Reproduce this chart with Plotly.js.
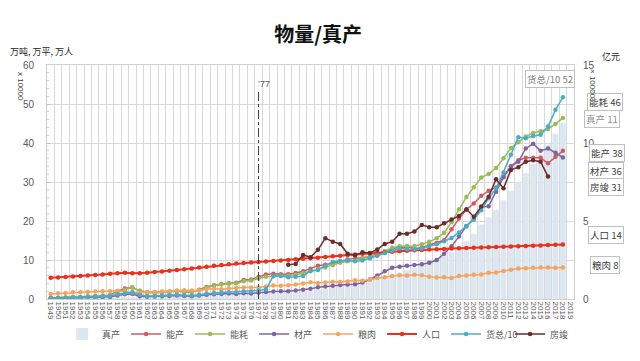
<!DOCTYPE html>
<html><head><meta charset="utf-8">
<script src="https://cdn.plot.ly/plotly-3.0.1.min.js"></script>
<style>html,body{margin:0;padding:0;background:#fff}#chart{width:640px;height:361px}</style>
</head><body><div id="chart"></div><script>
const years = ['1949','1950','1951','1952','1953','1954','1955','1956','1957','1958','1959','1960','1961','1962','1963','1964','1965','1966','1967','1968','1969','1970','1971','1972','1973','1974','1975','1976','1977','1978','1979','1980','1981','1982','1983','1984','1985','1986','1987','1988','1989','1990','1991','1992','1993','1994','1995','1996','1997','1998','1999','2000','2001','2002','2003','2004','2005','2006','2007','2008','2009','2010','2011','2012','2013','2014','2015','2016','2017','2018','2019'];

// 真产 (亿元, ×10000) — right axis
const zhenChan = [0.04,0.05,0.05,0.06,0.07,0.07,0.08,0.09,0.09,0.11,
 0.12,0.12,0.09,0.09,0.10,0.11,0.13,0.15,0.14,0.13,
 0.15,0.18,0.19,0.20,0.21,0.22,0.23,0.23,0.25,0.31,
 0.33,0.36,0.37,0.41,0.45,0.52,0.59,0.65,0.72,0.80,
 0.84,0.87,0.95,1.08,1.23,1.39,1.54,1.69,1.85,1.99,
 2.15,2.33,2.52,2.75,3.02,3.33,3.71,4.18,4.77,5.23,
 5.72,6.33,6.94,7.49,8.07,8.67,9.28,9.91,10.59,11.3,null];
// left axis series (万吨, 万平, 万人, ×10000)
const nengChan = [0.24,0.31,0.37,0.49,0.52,0.63,0.73,0.79,0.99,1.98,
 2.72,2.96,2.10,1.72,1.72,1.80,1.88,2.08,1.77,1.88,
 2.36,3.10,3.55,3.82,4.07,4.16,4.87,5.03,5.64,6.28,
 6.46,6.37,6.32,6.68,7.13,7.78,8.55,8.81,9.13,9.58,
 10.16,10.39,10.48,10.73,11.11,11.87,12.90,13.30,13.35,12.98,
 13.12,13.86,14.39,15.06,17.86,20.61,22.90,24.47,26.48,27.73,
 28.61,31.21,34.03,35.60,36.20,36.20,36.20,34.80,36.50,38.0,null];
const nengHao = [0.30,0.35,0.40,0.46,0.54,0.62,0.70,0.88,0.96,1.76,
 2.39,3.02,2.04,1.65,1.56,1.66,1.89,2.03,1.83,1.84,
 2.27,2.93,3.45,3.72,3.91,4.01,4.54,4.77,5.24,5.71,
 5.86,6.03,5.94,6.21,6.60,7.09,7.67,8.09,8.66,9.30,
 9.69,9.87,10.38,10.92,11.60,12.27,13.12,13.52,13.59,13.62,
 14.06,14.70,15.55,16.96,19.71,23.03,26.14,28.65,31.14,32.06,
 33.61,36.06,38.70,40.21,41.69,42.58,43.0,43.6,44.9,46.4,null];
const caiChan = [0.1,0.15,0.2,0.25,0.3,0.35,0.4,0.5,0.55,0.9,
 1.2,1.3,0.7,0.6,0.65,0.7,0.8,0.9,0.75,0.7,
 0.9,1.1,1.2,1.3,1.4,1.3,1.5,1.4,1.6,1.8,
 1.9,2.0,2.0,2.2,2.4,2.6,3.0,3.2,3.4,3.6,
 3.7,3.8,4.2,5.0,6.0,7.1,8.0,8.3,8.5,8.7,
 8.9,9.3,10.0,11.6,13.5,16.0,18.7,20.5,23.5,23.8,
 27.5,31.3,34.0,35.2,38.6,39.8,38.0,38.6,37.5,36.3,null];
const liangRou = [1.3,1.45,1.55,1.7,1.75,1.8,1.9,2.0,2.0,2.1,
 1.85,1.65,1.6,1.7,1.8,1.95,2.0,2.2,2.25,2.15,
 2.2,2.5,2.6,2.5,2.75,2.85,2.95,2.95,2.95,3.2,
 3.45,3.4,3.5,3.75,4.0,4.3,4.1,4.25,4.4,4.35,
 4.5,4.8,4.7,5.0,5.4,5.6,5.9,6.1,6.0,6.2,
 6.1,5.7,5.5,5.6,5.4,5.9,6.0,6.2,6.3,6.7,
 6.8,7.2,7.5,7.8,7.9,8.0,8.1,8.1,8.0,8.1,null];
const renKou = [5.42,5.52,5.63,5.75,5.88,6.03,6.15,6.28,6.46,6.60,
 6.72,6.62,6.59,6.73,6.92,7.05,7.25,7.45,7.64,7.85,
 8.07,8.30,8.52,8.72,8.92,9.09,9.24,9.37,9.50,9.63,
 9.75,9.87,10.01,10.17,10.30,10.44,10.59,10.75,10.93,11.10,
 11.27,11.43,11.58,11.72,11.85,11.99,12.11,12.24,12.36,12.48,
 12.58,12.67,12.76,12.85,12.92,13.00,13.08,13.14,13.21,13.28,
 13.34,13.41,13.47,13.54,13.61,13.68,13.75,13.83,13.90,13.95,null];
const huoZong = [0.16,0.2,0.25,0.32,0.4,0.48,0.55,0.65,0.8,1.2,
 1.5,1.7,1.1,0.8,0.8,0.9,1.0,1.1,0.95,0.9,
 1.1,1.4,1.55,1.65,1.75,1.75,1.95,1.95,2.2,2.49,
 5.9,5.9,5.6,5.7,5.9,7.2,7.46,8.54,9.48,9.82,
 9.88,9.71,9.86,10.46,11.16,11.80,12.35,12.98,12.78,12.67,
 12.93,13.59,14.02,14.83,15.64,17.06,18.62,20.37,22.76,25.86,
 28.25,32.42,36.97,41.5,41.2,41.8,42.1,44.2,48.5,51.7,null];
const fangJun = [null,null,null,null,null,null,null,null,null,null,
 null,null,null,null,null,null,null,null,null,null,
 null,null,null,null,null,null,null,null,null,null,
 null,null,8.8,9.0,11.3,10.7,12.6,15.6,14.7,14.1,
 11.6,11.2,12.0,11.8,12.7,14.1,14.7,16.7,16.7,17.3,
 19.0,18.4,18.4,19.4,20.4,21.3,23.0,21.1,23.7,26.2,
 30.7,28.4,33.1,33.8,35.2,35.6,35.2,31.4,null,null,null];

const seriesNames = ['能产','能耗','材产','粮肉','人口','货总/10','房竣'];
const seriesData = [nengChan,nengHao,caiChan,liangRou,renKou,huoZong,fangJun];
const seriesColors = ['#cd5b63','#9bbb59','#8064a2','#f4a460','#e8321e','#4bacc6','#6b2c2c'];
const endLabels = ['货总/10 52','能耗 46','真产 11','能产 38','材产 36','房竣 31','人口 14','粮肉 8'];
const markYear = '1977';

const cjk = '"Noto Sans CJK SC", sans-serif';
const traces = [{
  type:'bar', name:'真产', x:years, y:zhenChan, yaxis:'y',
  marker:{color:'#dde7f2'}, hoverinfo:'skip'
}];
seriesNames.forEach((n,i)=>{
  traces.push({type:'scatter', mode:'lines+markers', name:n, x:years, y:seriesData[i], yaxis:'y2',
    line:{color:seriesColors[i], width: n==='人口'?2:1.5},
    marker:{color:seriesColors[i], size:4.5}, connectgaps:false});
});

const markIdx = years.indexOf(markYear);
const px2x = p => (p-47)/527;
const px2y = p => (299-p)/234;
const labelPos = [[550,78.5],[605,101.5],[602,118.5],[607,153],[606,171],[606,186.5],[606,235],[605,265]];
const annotations = endLabels.map((t,i)=>({
  text:t, xref:'paper', yref:'paper', x:px2x(labelPos[i][0]), y:px2y(labelPos[i][1]),
  xanchor:'center', yanchor:'middle', showarrow:false,
  font:{family:cjk, size:9.5, color: i===2?'#8c8c8c':(i===0?'#7f7f7f':'#404040')},
  bordercolor:'#bfbfbf', borderwidth:1, borderpad:1, bgcolor:'#ffffff'
}));
annotations.push(
  {text:'万吨, 万平, 万人', xref:'paper', yref:'paper', x:px2x(8), y:px2y(52), xanchor:'left', yanchor:'middle', showarrow:false, font:{family:cjk,size:9,color:'#262626'}},
  {text:'亿元', xref:'paper', yref:'paper', x:px2x(611), y:px2y(57), xanchor:'center', yanchor:'middle', showarrow:false, font:{family:cjk,size:9,color:'#262626'}},
  {text:'x 10000', xref:'paper', yref:'paper', x:px2x(21), y:px2y(86), xanchor:'center', yanchor:'middle', textangle:90, showarrow:false, font:{family:'Liberation Sans, Arial',size:8,color:'#404040'}},
  {text:'× 10000', xref:'paper', yref:'paper', x:px2x(593), y:px2y(84), xanchor:'center', yanchor:'middle', textangle:90, showarrow:false, font:{family:'Liberation Sans, Arial',size:8,color:'#404040'}},
  {text:'\u201977', xref:'x', yref:'paper', x:markIdx, y:px2y(84), xanchor:'left', xshift:-3, yanchor:'middle', showarrow:false, font:{family:'Liberation Sans, Arial',size:9,color:'#595959'}}
);

const layout = {
  width:640, height:361,
  margin:{l:47, r:66, t:65, b:62},
  paper_bgcolor:'#ffffff', plot_bgcolor:'#ffffff',
  font:{family:'Liberation Sans, Arial, sans-serif', color:'#595959'},
  title:{text:'<b>物量/真产</b>', x:0.497, xanchor:'center', y:1-35/361, yanchor:'middle', font:{family:cjk, size:20, color:'#111111'}},
  showlegend:true,
  legend:{orientation:'h', xref:'container', x:0.497, xanchor:'center', yref:'container', y:1-334/361, yanchor:'middle',
    font:{family:cjk,size:9,color:'#595959'}, itemwidth:30, entrywidth:19, traceorder:'normal', bgcolor:'rgba(0,0,0,0)'},
  bargap:0.2,
  xaxis:{type:'category', categoryorder:'array', categoryarray:years, range:[-0.5, years.length-0.5], dtick:1, tickangle:90, tickfont:{size:8,color:'#595959'},
    showgrid:true, gridcolor:'#d9d9d9', gridwidth:1, tickson:'boundaries', ticks:'', showline:true, linecolor:'#d0d0d0', mirror:true, anchor:'y'},
  yaxis:{side:'right', range:[0,15], tickvals:[0,5,10,15], showgrid:false, zeroline:false, showline:true, linecolor:'#d0d0d0',
    tickfont:{size:10,color:'#595959'}, ticklabelstandoff:6, anchor:'x'},
  yaxis2:{overlaying:'y', side:'left', range:[0,60], dtick:10, showgrid:true, gridcolor:'#d9d9d9', zeroline:false, showline:true, linecolor:'#d0d0d0',
    tickfont:{size:10,color:'#595959'}, ticks:'inside', ticklen:3, tickcolor:'#bfbfbf', ticklabelstandoff:10,
    minor:{ticks:'inside', dtick:2, ticklen:2, tickcolor:'#cfcfcf'}, anchor:'x'},
  shapes:[{type:'line', xref:'x', yref:'paper', x0:markIdx, x1:markIdx, y0:0, y1:px2y(90), line:{color:'#404040', width:1, dash:'dashdot'}}],
  annotations:annotations
};
Plotly.newPlot('chart', traces, layout, {displayModeBar:false, staticPlot:true});
</script></body></html>
